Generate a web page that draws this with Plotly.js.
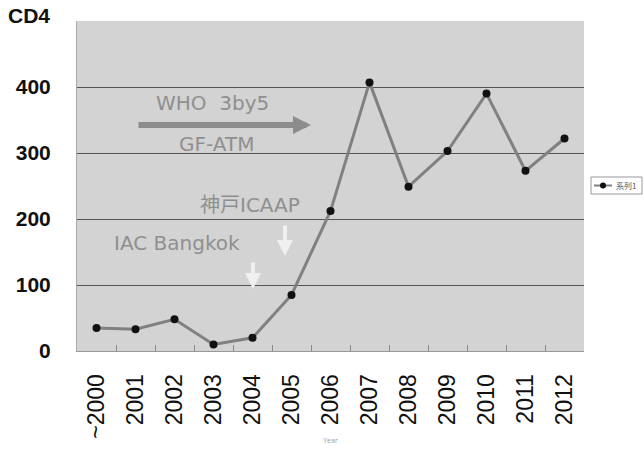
<!DOCTYPE html>
<html>
<head>
<meta charset="utf-8">
<script src="https://cdn.plot.ly/plotly-3.0.1.min.js"></script>
<style>html,body{margin:0;padding:0;background:#fff;}#chart{width:644px;height:452px;}</style>
</head>
<body>
<div id="chart"></div>
<script>
const years = ["~2000","2001","2002","2003","2004","2005","2006","2007","2008","2009","2010","2011","2012"];
const cd4 = [35,33,48,10,20,85,212,407,249,303,390,273,322];
const yTicks = [0,100,200,300,400];
const seriesName = "系列1";

const trace = {
  x: years, y: cd4, type: "scatter", mode: "lines+markers", name: seriesName,
  line: {color: "#808080", width: 3},
  marker: {color: "#111", size: 8, symbol: "circle"}
};

const grayTxt = "#8f8f8f";
const px = v => (v - 77) / 507;
const py = v => (351 - v) / 330;

const layout = {
  width: 644, height: 452,
  margin: {l: 77, r: 60, t: 21, b: 101, autoexpand: false},
  paper_bgcolor: "#ffffff",
  plot_bgcolor: "#d3d3d3",
  showlegend: false,
  xaxis: {type: "category", range: [-0.5, 12.5], tickangle: -90, tickson: "boundaries", ticks: "inside", ticklen: 6,
    tickcolor: "#888", showgrid: false, showline: true, linecolor: "#999", linewidth: 1,
    tickfont: {family: "Liberation Sans, Arial", size: 23, color: "#111"}, ticklabelstandoff: 13,
    title: {text: "Year", font: {size: 7, color: "#999"}, standoff: 0}},
  yaxis: {range: [0, 500], tickvals: yTicks, showgrid: true, gridcolor: "#555", gridwidth: 1,
    zeroline: false, showline: true, linecolor: "#aaa", ticks: "",
    tickfont: {family: "Liberation Sans, Arial", size: 21, color: "#111", weight: "bold"}, ticklabelstandoff: 21},
  shapes: [
    {type: "rect", xref: "paper", yref: "paper", x0: px(591), x1: px(642), y0: py(194), y1: py(177),
     line: {color: "#999", width: 1}, fillcolor: "#ffffff"},
    {type: "line", xref: "paper", yref: "paper", x0: px(594), x1: px(612), y0: py(185.5), y1: py(185.5),
     line: {color: "#808080", width: 2}},
    {type: "circle", xref: "paper", yref: "paper", x0: px(600), x1: px(606), y0: py(188.5), y1: py(182.5),
     line: {color: "#111", width: 0}, fillcolor: "#111"}
  ],
  annotations: [
    {text: seriesName, xref: "paper", yref: "paper", x: px(614), y: py(185.5), xanchor: "left", yanchor: "middle",
     showarrow: false, font: {family: "Noto Sans CJK JP", size: 8, color: "#555"}},
    {text: "CD4", xref: "paper", yref: "paper", x: -0.05, y: 1.016, xanchor: "right", yanchor: "middle",
     showarrow: false, font: {family: "Liberation Sans, Arial", size: 21, color: "#111", weight: "bold"}},
    {text: "WHO  3by5", xref: "paper", yref: "paper", x: px(212), y: py(103), xanchor: "center", yanchor: "middle",
     showarrow: false, font: {family: "DejaVu Sans", size: 20, color: grayTxt}},
    {text: "GF-ATM", xref: "paper", yref: "paper", x: px(216), y: py(144), xanchor: "center", yanchor: "middle",
     showarrow: false, font: {family: "DejaVu Sans", size: 20, color: grayTxt}},
    {text: "", xref: "paper", yref: "paper", x: px(311), y: py(125), ax: -174, ay: 0,
     showarrow: true, arrowhead: 2, arrowsize: 0.6, arrowwidth: 6, arrowcolor: "#8c8c8c"},
    {text: "神戸ICAAP", xref: "paper", yref: "paper", x: px(250), y: py(205), xanchor: "center", yanchor: "middle",
     showarrow: false, font: {family: "DejaVu Sans, Noto Sans CJK JP", size: 20, color: grayTxt}},
    {text: "IAC Bangkok", xref: "paper", yref: "paper", x: px(177), y: py(243), xanchor: "center", yanchor: "middle",
     showarrow: false, font: {family: "DejaVu Sans", size: 20, color: grayTxt}},
    {text: "", xref: "paper", yref: "paper", x: px(285), y: py(256), ax: 0, ay: -32,
     showarrow: true, arrowhead: 2, arrowsize: 0.8, arrowwidth: 4, arrowcolor: "#f0f0f0"},
    {text: "", xref: "paper", yref: "paper", x: px(253), y: py(289), ax: 0, ay: -28,
     showarrow: true, arrowhead: 2, arrowsize: 0.8, arrowwidth: 4, arrowcolor: "#f0f0f0"}
  ]
};

Plotly.newPlot("chart", [trace], layout, {displayModeBar: false, staticPlot: true});
</script>
</body>
</html>
